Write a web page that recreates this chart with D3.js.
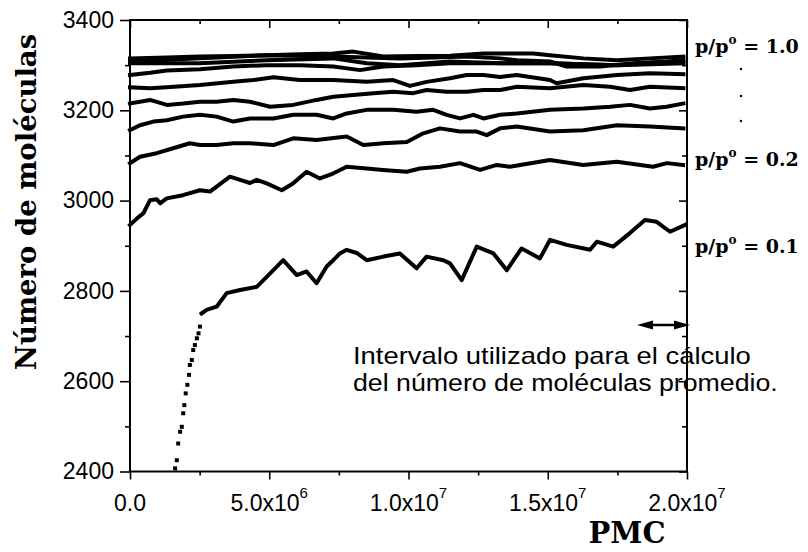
<!DOCTYPE html>
<html><head><meta charset="utf-8">
<script src="https://cdn.jsdelivr.net/npm/d3@7"></script>
<style>html,body{margin:0;padding:0;background:#fff;}</style>
</head><body>
<svg id="c" width="808" height="552"></svg>
<script>
// ---- data (x in millions of PMC steps) ----
const yTicks = [2400, 2600, 2800, 3000, 3200, 3400];
const yMinorTicks = [2500, 2700, 2900, 3100, 3300];
const xTicks = [0, 5e6, 1e7, 1.5e7, 2e7];
const xMinorTicks = [2.5e6, 7.5e6, 1.25e7, 1.75e7];
const xTickBase = ["0.0", "5.0x10", "1.0x10", "1.5x10", "2.0x10"];
const xTickExp = ["", "6", "7", "7", "7"];
const seriesLabels = ["p/p", "p/p", "p/p"];
const seriesLabelValues = ["1.0", "0.2", "0.1"];

// p/p0 = 0.1 : initial rise (scattered points)
const rise01X = [1.62,1.68,1.73,1.80,1.86,1.91,1.95,2.00,2.06,2.12,2.15,2.22,2.27,2.33,2.40,2.46,2.51];
const rise01Y = [2407,2425,2462,2488,2499,2529,2547,2573,2592,2614,2636,2647,2669,2680,2695,2706,2721];
// p/p0 = 0.1 : plateau
const s01X = [2.57,2.75,3.11,3.47,3.95,4.55,4.91,5.50,5.99,6.34,6.70,7.06,7.30,7.54,7.78,8.14,8.50,9.10,9.69,10.29,10.65,11.25,11.49,11.91,12.45,13.05,13.53,14.06,14.72,15.08,15.68,16.52,16.76,17.35,17.95,18.49,18.91,19.39,19.93];
const s01Y = [2750,2758,2765,2795,2802,2809,2831,2868,2835,2843,2817,2854,2868,2883,2891,2884,2868,2876,2883,2850,2876,2868,2861,2824,2898,2883,2846,2894,2872,2913,2902,2891,2909,2898,2928,2957,2953,2931,2946];

const s02X = [0,0.24,0.48,0.72,0.96,1.08,1.32,1.90,2.51,2.87,3.59,3.95,4.31,4.55,4.91,5.45,5.85,6.34,6.82,7.29,7.78,8.50,9.08,9.94,10.41,11.13,11.85,12.57,13.17,13.64,15.08,16.27,17.48,18.78,19.28,19.86];
const s02Y = [2946,2960,2972,3001,3003,2994,3005,3012,3023,3020,3053,3046,3039,3046,3038,3023,3038,3064,3049,3060,3075,3071,3068,3064,3071,3075,3083,3068,3079,3075,3090,3079,3086,3075,3083,3079];

const s03X = [0,0.36,0.96,1.55,2.15,2.51,3.11,3.71,4.31,5.15,5.86,6.70,7.78,8.38,9.10,9.94,10.53,11.13,11.85,12.45,12.81,13.29,13.89,15.08,16.28,17.48,18.67,19.87];
const s03Y = [3083,3097,3105,3116,3127,3123,3123,3127,3127,3123,3138,3134,3142,3123,3127,3130,3149,3160,3153,3153,3145,3160,3164,3153,3156,3167,3164,3160];

const s04X = [0,0.36,0.84,1.32,1.91,2.51,3.11,3.71,4.31,5.15,5.86,6.70,7.30,7.78,8.50,9.45,10.29,10.89,11.37,11.85,12.33,12.69,13.29,13.89,15.08,16.28,17.24,17.95,18.67,19.27,19.87];
const s04Y = [3156,3167,3175,3178,3186,3190,3186,3175,3182,3182,3190,3190,3182,3193,3201,3201,3197,3201,3190,3182,3190,3182,3190,3193,3201,3204,3208,3212,3204,3208,3215];

const s05X = [0,0.72,1.32,1.91,2.51,3.11,3.71,4.31,5.03,5.86,6.70,7.30,8.02,8.74,9.45,10.17,10.65,11.37,12.09,12.69,13.29,13.89,15.08,16.28,17.24,17.95,18.67,19.87];
const s05Y = [3215,3223,3212,3215,3219,3219,3223,3219,3208,3212,3223,3230,3234,3238,3241,3238,3245,3241,3241,3245,3245,3252,3249,3256,3252,3245,3252,3249];

const s06X = [0,0.72,1.32,2.51,3.71,4.43,5.15,6.10,7.30,8.50,9.45,10.05,10.65,11.49,12.09,12.69,13.29,13.89,15.08,15.32,16.28,17.48,18.67,19.87];
const s06Y = [3251,3249,3251,3256,3263,3267,3273,3267,3267,3263,3267,3254,3263,3271,3278,3278,3274,3278,3267,3260,3271,3278,3282,3280];

const s07X = [0,0.72,1.32,2.51,3.71,4.91,6.10,7.30,8.26,9.10,10.29,11.49,13.29,15.08,17.48,19.87];
const s07Y = [3278,3283,3288,3291,3297,3300,3300,3297,3289,3297,3300,3304,3304,3304,3300,3304];

const s08X = [0,2.51,4.91,7.30,8.50,9.69,11.49,13.29,15.08,17.48,19.87];
const s08Y = [3304,3304,3311,3315,3304,3300,3308,3304,3304,3300,3308];

const s09X = [0,2.51,4.91,7.30,9.69,12.09,13.29,13.89,15.08,15.68,16.88,18.07,19.27,19.87];
const s09Y = [3308,3315,3322,3319,3315,3319,3315,3311,3308,3297,3297,3304,3308,3311];

const s10X = [0,1.32,2.51,3.71,4.91,6.10,7.30,8.02,9.10,10.29,11.49,12.69,14.48,15.08,16.28,17.48,18.67,19.87];
const s10Y = [3315,3317,3319,3320,3322,3324,3326,3330,3319,3320,3321,3326,3326,3322,3315,3311,3315,3319];

const lineSeries = [[s01X,s01Y],[s02X,s02Y],[s03X,s03Y],[s04X,s04Y],[s05X,s05Y],[s06X,s06Y],[s07X,s07Y],[s08X,s08Y],[s09X,s09Y],[s10X,s10Y]];

// ---- drawing ----
const svg = d3.select("#c");
const x = d3.scaleLinear().domain([0, 2e7]).range([130, 687]);
const y = d3.scaleLinear().domain([2400, 3400]).range([471.5, 20]);
const sans = "'Liberation Sans', Arial, sans-serif";
const serif = "'DejaVu Serif', serif";

function styleAxis(g) {
  g.select(".domain").remove();
  g.selectAll(".tick line").attr("stroke", "#000").attr("stroke-width", 1.6);
}

// left
svg.append("g").attr("transform", "translate(130,0)")
  .call(d3.axisLeft(y).tickValues(yTicks).tickSize(10).tickPadding(6).tickFormat(d => d))
  .call(styleAxis)
  .call(g => g.selectAll("text").attr("font-family", sans).attr("font-size", 23).attr("fill", "#000"));
svg.append("g").attr("transform", "translate(130,0)")
  .call(d3.axisLeft(y).tickValues(yMinorTicks).tickSize(5).tickFormat(""))
  .call(styleAxis);
// right (inward)
svg.append("g").attr("transform", "translate(687,0)")
  .call(d3.axisLeft(y).tickValues(yTicks).tickSize(8).tickFormat(""))
  .call(styleAxis);
svg.append("g").attr("transform", "translate(687,0)")
  .call(d3.axisLeft(y).tickValues(yMinorTicks).tickSize(5).tickFormat(""))
  .call(styleAxis);
// bottom
svg.append("g").attr("transform", "translate(0,471.5)")
  .call(d3.axisBottom(x).tickValues(xTicks).tickSize(8).tickFormat(""))
  .call(styleAxis);
svg.append("g").attr("transform", "translate(0,471.5)")
  .call(d3.axisBottom(x).tickValues(xMinorTicks).tickSize(4).tickFormat(""))
  .call(styleAxis);
// top (inward)
svg.append("g").attr("transform", "translate(0,20)")
  .call(d3.axisBottom(x).tickValues(xTicks).tickSize(8).tickFormat(""))
  .call(styleAxis);
svg.append("g").attr("transform", "translate(0,20)")
  .call(d3.axisBottom(x).tickValues(xMinorTicks).tickSize(4).tickFormat(""))
  .call(styleAxis);

// frame
svg.append("rect").attr("x", x(0)).attr("y", y(3400))
  .attr("width", x(2e7) - x(0)).attr("height", y(2400) - y(3400))
  .attr("fill", "none").attr("stroke", "#000").attr("stroke-width", 2);

// x tick labels with superscripts
xTicks.forEach((v, i) => {
  const t = svg.append("text").attr("x", x(v)).attr("y", 511)
    .attr("text-anchor", "middle").attr("font-family", sans).attr("font-size", 23).attr("fill", "#000");
  t.append("tspan").text(xTickBase[i]);
  if (xTickExp[i]) t.append("tspan").attr("font-size", 15).attr("dy", -13).text(xTickExp[i]);
});

// series
const line = d3.line().x(d => x(d[0] * 1e6)).y(d => y(d[1])).curve(d3.curveLinear);
lineSeries.forEach(([xs, ys]) => {
  const pts = xs.map((v, i) => [v, ys[i]]);
  svg.append("path").datum(pts).attr("d", line)
    .attr("fill", "none").attr("stroke", "#000").attr("stroke-width", 4)
    .attr("stroke-linejoin", "round").attr("stroke-linecap", "square");
});
svg.append("g").selectAll("rect").data(rise01X.map((v, i) => [v, rise01Y[i]])).join("rect")
  .attr("x", d => x(d[0] * 1e6) - 2).attr("y", d => y(d[1]) - 2)
  .attr("width", 4).attr("height", 4).attr("fill", "#000");

// right-side labels
const labelY = [53, 166, 253];
seriesLabelValues.forEach((v, i) => {
  const t = svg.append("text").attr("x", 695).attr("y", labelY[i])
    .attr("font-family", serif).attr("font-weight", "bold").attr("font-size", 19).attr("fill", "#000");
  t.append("tspan").text(seriesLabels[i]);
  t.append("tspan").attr("font-size", 12).attr("dy", -9).text("o");
  t.append("tspan").attr("dy", 9).text("\u00a0= " + v);
});
[69, 96, 121].forEach(cy => svg.append("circle").attr("cx", 741).attr("cy", cy).attr("r", 1.2).attr("fill", "#000"));

// axis titles
svg.append("text").attr("transform", "translate(36,202) rotate(-90)")
  .attr("text-anchor", "middle").attr("font-family", serif).attr("font-weight", "bold")
  .attr("font-size", 27.5).attr("fill", "#000").text("Número de moléculas");
svg.append("text").attr("x", 627).attr("y", 543)
  .attr("text-anchor", "middle").attr("font-family", serif).attr("font-weight", "bold")
  .attr("font-size", 29).attr("fill", "#000").text("PMC");

// annotation (glyphs stretched horizontally to the reference width)
[["Intervalo utilizado para el cálculo", 364, 398], ["del número de moléculas promedio.", 391, 425]].forEach(([s, by, w]) => {
  const t = svg.append("text").attr("x", 0).attr("y", 0).attr("font-family", sans).attr("font-size", 24)
    .attr("fill", "#000").text(s);
  const nat = t.node().getComputedTextLength();
  t.attr("transform", `translate(353,${by}) scale(${w / nat},1)`);
});

// double arrow
const ay = 325, ax0 = 637, ax1 = 690;
svg.append("line").attr("x1", ax0 + 10).attr("x2", ax1 - 10).attr("y1", ay).attr("y2", ay)
  .attr("stroke", "#000").attr("stroke-width", 2.5);
svg.append("path").attr("d", `M${ax0},${ay} L${ax0 + 16},${ay - 4.5} L${ax0 + 16},${ay + 4.5} Z`).attr("fill", "#000");
svg.append("path").attr("d", `M${ax1},${ay} L${ax1 - 16},${ay - 4.5} L${ax1 - 16},${ay + 4.5} Z`).attr("fill", "#000");
</script>
</body></html>
